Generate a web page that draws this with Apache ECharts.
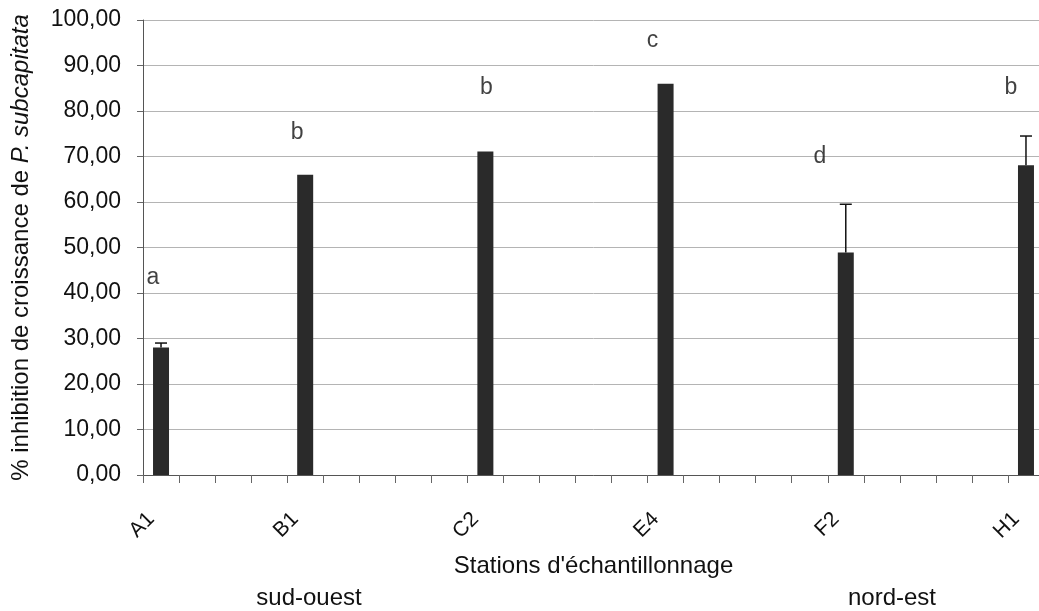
<!DOCTYPE html>
<html>
<head>
<meta charset="utf-8">
<script src="https://cdn.jsdelivr.net/npm/echarts@6/dist/echarts.min.js"></script>
<style>
  html, body { margin: 0; padding: 0; background: #ffffff; overflow: hidden; width: 1039px; height: 611px; }
  #chart { width: 1046px; height: 611px; }
</style>
</head>
<body>
<div id="chart"></div>
<script>
// ---- data ----
const stations = ['A1', 'B1', 'C2', 'E4', 'F2', 'H1'];
const stationSlots = [0, 4, 9, 14, 19, 24];   // category slot of each station on the x axis
const slotCount = 25;
const inhibition = [28.0, 66.0, 71.1, 86.0, 48.9, 68.1];
const errorPlus = [1.0, 0, 0, 0, 10.6, 6.4];
const groupLetters = ['a', 'b', 'b', 'c', 'd', 'b'];
const letterLevels = [43.4, 75.2, 85.2, 95.4, 69.9, 85.2];
const regionLabels = ['sud-ouest', 'nord-est'];
const yAxisTitle = '% inhibition de croissance de ';
const yAxisSpecies = 'P. subcapitata';
const xAxisTitle = "Stations d'échantillonnage";

// ---- styles ----
const FONT = '"Liberation Sans", Arial, sans-serif';
const TXT = '#111111';
const letterOffsets = [[-8, 0], [-8, 0], [1, 0], [-13, 0], [-26, 0], [-15, 0]];

// ---- build ----
const categories = new Array(slotCount).fill('');
const barData = new Array(slotCount).fill('-');
stations.forEach((s, i) => {
  categories[stationSlots[i]] = s;
  barData[stationSlots[i]] = inhibition[i];
});
const errData = stations.map((s, i) => [stationSlots[i], inhibition[i], errorPlus[i]]);
const letterData = stations.map((s, i) => ({
  value: [stationSlots[i], letterLevels[i]],
  label: { formatter: groupLetters[i], offset: letterOffsets[i] }
}));

const chart = echarts.init(document.getElementById('chart'), null, { renderer: 'canvas' });
chart.setOption({
  animation: false,
  backgroundColor: '#ffffff',
  grid: { left: 143, right: 2, top: 20, bottom: 136, containLabel: false },
  xAxis: {
    type: 'category',
    data: categories,
    boundaryGap: true,
    axisLine: { lineStyle: { color: '#555', width: 1 } },
    axisTick: { show: true, interval: 0, length: 8, lineStyle: { color: '#666' } },
    axisLabel: {
      interval: 0, rotate: 45, margin: 31,
      padding: [0, 14, 0, 0],
      fontFamily: FONT, fontSize: 21, color: TXT
    },
    splitLine: { show: false },
    name: xAxisTitle,
    nameLocation: 'middle',
    nameGap: 79,
    nameTextStyle: { fontFamily: FONT, fontSize: 24, color: TXT }
  },
  yAxis: {
    type: 'value',
    min: 0, max: 100, interval: 10,
    axisLine: { show: true, lineStyle: { color: '#555', width: 1 } },
    axisTick: { show: true, length: 6, lineStyle: { color: '#666' } },
    axisLabel: {
      margin: 22, fontFamily: FONT, fontSize: 23, color: TXT,
      formatter: v => v.toFixed(2).replace('.', ',')
    },
    splitLine: { show: true, lineStyle: { color: '#b4b4b4', width: 1 } },
    name: '{n|' + yAxisTitle + '}{i|' + yAxisSpecies + '}',
    nameLocation: 'middle',
    nameGap: 110,
    nameTextStyle: {
      rich: {
        n: { fontFamily: FONT, fontSize: 24, color: TXT },
        i: { fontFamily: FONT, fontSize: 24, color: TXT, fontStyle: 'italic' }
      }
    }
  },
  series: [
    {
      type: 'bar',
      data: barData,
      barWidth: 16,
      itemStyle: { color: '#2a2a2a' },
      z: 2
    },
    {
      type: 'custom',
      data: errData,
      z: 3,
      renderItem: function (params, api) {
        const slot = api.value(0), v = api.value(1), e = api.value(2);
        if (!e) return null;
        const p0 = api.coord([slot, v]);
        const p1 = api.coord([slot, v + e]);
        const style = { stroke: '#111', lineWidth: 1.5 };
        return {
          type: 'group',
          children: [
            { type: 'line', shape: { x1: p0[0], y1: p0[1], x2: p1[0], y2: p1[1] }, style: style },
            { type: 'line', shape: { x1: p1[0] - 6, y1: p1[1], x2: p1[0] + 6, y2: p1[1] }, style: style }
          ]
        };
      }
    },
    {
      type: 'scatter',
      data: letterData,
      symbolSize: 0,
      z: 4,
      label: {
        show: true, position: 'inside',
        fontFamily: FONT, fontSize: 23, color: TXT
      }
    }
  ],
  graphic: [
    { type: 'text', x: 309, y: 598, style: { text: regionLabels[0], font: '24px ' + FONT, fill: TXT, textAlign: 'center', textVerticalAlign: 'middle' } },
    { type: 'text', x: 892, y: 598, style: { text: regionLabels[1], font: '24px ' + FONT, fill: TXT, textAlign: 'center', textVerticalAlign: 'middle' } }
  ]
});
</script>
</body>
</html>
